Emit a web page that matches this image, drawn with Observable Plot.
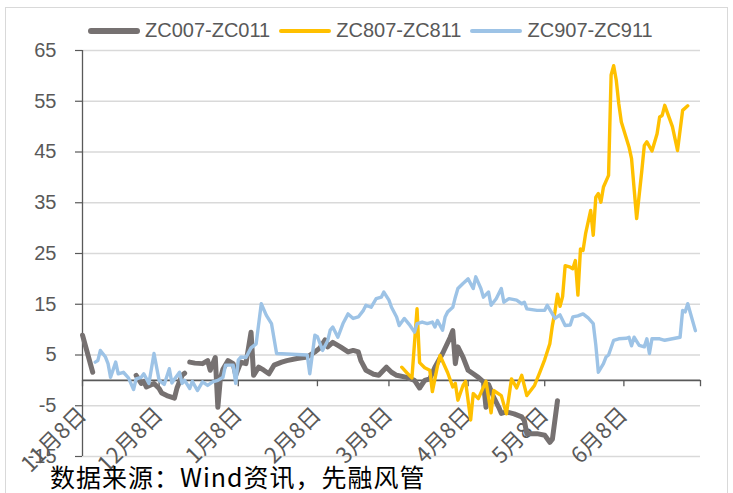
<!DOCTYPE html>
<html><head><meta charset="utf-8">
<script src="https://cdn.jsdelivr.net/npm/d3@7"></script>
<script src="https://cdn.jsdelivr.net/npm/@observablehq/plot@0.6"></script>
<style>
body{margin:0;background:#fff;}
#wrap{position:relative;width:733px;height:493px;overflow:hidden;font-family:"Liberation Sans",Arial,sans-serif;}
#border{position:absolute;left:5px;top:7px;width:723px;height:520px;border:1px solid #d9d9d9;box-sizing:border-box;}
#chart{position:absolute;left:0;top:0;}
#legend{position:absolute;left:88px;top:19px;display:flex;align-items:center;font-size:20px;color:#595959;white-space:nowrap;}
.item{display:flex;align-items:center;margin-right:9px;}
.sw{width:52px;border-radius:3px;margin-right:5px;}
#caption{position:absolute;left:50px;top:464px;font-family:"Noto Sans CJK SC",sans-serif;font-size:25px;letter-spacing:1px;line-height:1;color:#000;white-space:pre;}
</style></head>
<body>
<div id="wrap"><div id="border"></div><div id="chart"></div><div id="legend"></div><div id="caption"></div></div>
<script>
const seriesNames = ["ZC007-ZC011", "ZC807-ZC811", "ZC907-ZC911"];
const yTicks = [-15, -5, 5, 15, 25, 35, 45, 55, 65];
const xTickDates = ["2018-11-08","2018-12-08","2019-01-08","2019-02-08","2019-03-08","2019-04-08","2019-05-08","2019-06-08"];
const xTickLabels = ["11月8日","12月8日","1月8日","2月8日","3月8日","4月8日","5月8日","6月8日"];
const xEnd = "2019-07-08";
const captionText = "数据来源：Wind资讯，先融风管";

const zc007 = [
["2018-11-08",8.9],["2018-11-12",1.6],["2018-11-13",null],
["2018-11-29",1.0],["2018-12-01",-0.6],["2018-12-02",-0.2],["2018-12-03",-1.3],["2018-12-06",-0.6],
["2018-12-08",-1.6],["2018-12-09",-2.5],["2018-12-11",-3.0],["2018-12-14",-3.5],["2018-12-15",-1.5],
["2018-12-17",1.0],["2018-12-18",1.4],["2018-12-19",null],
["2018-12-20",3.6],["2018-12-22",3.4],["2018-12-25",3.3],["2018-12-26",3.6],["2018-12-27",3.9],
["2018-12-28",2.0],["2018-12-30",4.5],["2018-12-31",-5.3],["2019-01-01",0.4],["2019-01-02",2.2],
["2019-01-04",3.9],["2019-01-06",3.3],["2019-01-07",1.0],["2019-01-09",3.6],["2019-01-11",3.3],
["2019-01-13",9.5],["2019-01-14",1.0],["2019-01-16",2.6],["2019-01-18",2.0],["2019-01-20",1.3],
["2019-01-22",3.0],["2019-01-25",3.6],["2019-01-27",3.9],["2019-01-31",4.3],["2019-02-04",4.6],
["2019-02-07",5.6],["2019-02-09",6.4],["2019-02-11",8.0],["2019-02-12",6.6],["2019-02-14",7.5],
["2019-02-17",6.6],["2019-02-20",5.6],["2019-02-22",5.9],["2019-02-24",5.6],["2019-02-25",3.9],
["2019-02-27",2.0],["2019-03-02",1.2],["2019-03-04",1.0],["2019-03-07",2.6],["2019-03-09",1.6],
["2019-03-11",1.0],["2019-03-15",0.6],["2019-03-18",0.0],["2019-03-20",-1.5],["2019-03-22",0.0],
["2019-03-24",0.3],["2019-03-26",2.6],["2019-03-29",5.3],["2019-04-01",8.5],["2019-04-02",9.8],
["2019-04-03",3.3],["2019-04-04",6.6],["2019-04-06",4.6],["2019-04-08",2.0],["2019-04-10",1.3],
["2019-04-12",0.6],["2019-04-14",-0.3],["2019-04-15",-5.3],["2019-04-16",-0.8],["2019-04-18",-3.3],
["2019-04-20",-5.3],["2019-04-21",-6.5],["2019-04-23",-6.2],["2019-04-26",-6.6],["2019-04-29",-7.2],
["2019-04-30",-7.9],["2019-05-01",-10.5],["2019-05-02",-10.5],["2019-05-05",-10.5],["2019-05-08",-10.8],
["2019-05-10",-12.2],["2019-05-11",-11.6],["2019-05-13",-4.0]
];

const zc807 = [
["2019-03-13",2.6],["2019-03-15",1.5],["2019-03-17",0.5],["2019-03-19",14.1],["2019-03-20",3.5],
["2019-03-22",2.5],["2019-03-24",2.0],["2019-03-25",-2.2],["2019-03-27",2.8],["2019-03-28",4.9],
["2019-03-31",1.5],["2019-04-02",-1.3],["2019-04-03",-0.6],["2019-04-04",-3.9],["2019-04-06",-1.0],
["2019-04-07",-0.2],["2019-04-09",-7.8],["2019-04-10",-2.6],["2019-04-12",-3.6],["2019-04-15",-0.2],
["2019-04-17",-6.4],["2019-04-18",-2.0],["2019-04-21",-3.0],["2019-04-23",-6.6],["2019-04-25",0.3],
["2019-04-27",-1.5],["2019-04-29",1.0],["2019-05-01",-3.0],["2019-05-04",-1.0],["2019-05-06",1.5],
["2019-05-08",4.1],["2019-05-10",7.2],["2019-05-11",10.8],["2019-05-12",13.5],["2019-05-13",17.0],
["2019-05-14",14.6],["2019-05-15",16.5],["2019-05-16",22.6],["2019-05-18",22.3],["2019-05-19",22.0],
["2019-05-20",23.6],["2019-05-21",16.8],["2019-05-22",25.9],["2019-05-23",25.6],["2019-05-24",28.9],
["2019-05-26",33.5],["2019-05-27",28.6],["2019-05-28",36.1],["2019-05-29",36.8],["2019-05-30",35.1],
["2019-05-31",38.1],["2019-06-02",40.4],["2019-06-03",60.2],["2019-06-04",62.0],["2019-06-05",59.2],
["2019-06-06",54.5],["2019-06-07",50.9],["2019-06-10",46.0],["2019-06-11",43.7],["2019-06-13",31.9],
["2019-06-15",41.2],["2019-06-16",46.3],["2019-06-17",47.0],["2019-06-19",45.2],["2019-06-21",48.6],
["2019-06-22",51.9],["2019-06-23",52.2],["2019-06-24",54.2],["2019-06-27",50.0],["2019-06-29",45.3],
["2019-07-01",53.2],["2019-07-03",54.1]
];

const zc907 = [
["2018-11-13",3.6],["2018-11-14",3.9],["2018-11-15",5.9],["2018-11-17",4.6],["2018-11-18",3.3],
["2018-11-19",0.6],["2018-11-21",3.6],["2018-11-22",1.3],["2018-11-24",1.6],["2018-11-26",0.5],
["2018-11-28",-1.8],["2018-11-29",0.3],["2018-12-01",0.6],["2018-12-02",1.3],["2018-12-04",-0.6],
["2018-12-06",5.3],["2018-12-08",0.0],["2018-12-10",-0.8],["2018-12-12",2.3],["2018-12-13",-0.5],
["2018-12-14",0.2],["2018-12-16",1.6],["2018-12-17",-0.6],["2018-12-18",0.0],["2018-12-20",-1.6],
["2018-12-21",-0.2],["2018-12-23",-2.0],["2018-12-25",-0.3],["2018-12-27",-1.0],["2018-12-29",-0.3],
["2018-12-31",0.0],["2019-01-02",0.6],["2019-01-03",3.0],["2019-01-06",3.0],["2019-01-07",-0.6],
["2019-01-08",4.0],["2019-01-09",4.6],["2019-01-11",4.5],["2019-01-13",6.4],["2019-01-15",7.2],
["2019-01-17",15.1],["2019-01-19",12.8],["2019-01-21",11.2],["2019-01-23",5.3],["2019-02-04",5.0],
["2019-02-05",1.3],["2019-02-07",8.9],["2019-02-08",8.6],["2019-02-10",5.9],["2019-02-12",7.8],
["2019-02-13",9.9],["2019-02-14",10.5],["2019-02-16",8.5],["2019-02-18",11.2],["2019-02-20",13.1],
["2019-02-22",12.2],["2019-02-24",12.5],["2019-02-26",13.8],["2019-02-27",14.8],["2019-03-01",14.4],
["2019-03-03",16.1],["2019-03-05",16.4],["2019-03-06",17.4],["2019-03-08",15.8],["2019-03-09",14.4],
["2019-03-11",12.5],["2019-03-12",10.8],["2019-03-14",12.2],["2019-03-16",11.0],["2019-03-18",9.5],
["2019-03-19",11.2],["2019-03-21",11.5],["2019-03-23",11.2],["2019-03-25",11.5],["2019-03-26",10.5],
["2019-03-27",11.8],["2019-03-29",9.9],["2019-03-30",12.5],["2019-03-31",13.5],["2019-04-02",14.4],
["2019-04-03",16.4],["2019-04-04",18.1],["2019-04-06",19.1],["2019-04-08",20.0],["2019-04-10",18.1],
["2019-04-11",20.4],["2019-04-13",18.1],["2019-04-14",16.4],["2019-04-16",17.4],["2019-04-17",14.8],
["2019-04-19",16.1],["2019-04-21",18.1],["2019-04-22",15.4],["2019-04-24",16.1],["2019-04-27",15.8],
["2019-04-29",15.1],["2019-04-30",15.4],["2019-05-01",14.1],["2019-05-05",13.8],["2019-05-08",13.8],
["2019-05-09",14.8],["2019-05-11",13.1],["2019-05-12",12.2],["2019-05-14",12.9],["2019-05-16",10.8],
["2019-05-18",10.9],["2019-05-19",12.5],["2019-05-21",12.7],["2019-05-23",13.1],["2019-05-25",12.3],
["2019-05-27",11.2],["2019-05-28",7.0],["2019-05-29",1.6],["2019-05-31",3.3],["2019-06-01",4.6],
["2019-06-02",5.0],["2019-06-04",7.9],["2019-06-06",8.2],["2019-06-09",8.3],["2019-06-10",8.5],
["2019-06-11",6.8],["2019-06-12",8.5],["2019-06-14",6.9],["2019-06-16",6.6],["2019-06-17",8.2],
["2019-06-18",5.3],["2019-06-19",8.2],["2019-06-22",8.2],["2019-06-24",7.9],["2019-06-27",8.2],
["2019-06-30",8.5],["2019-07-01",13.8],["2019-07-02",13.5],["2019-07-03",15.1],["2019-07-06",9.8]
];

const colors = ["#767171", "#FFC000", "#9DC3E6"];
const widths = [5, 3.4, 3.4];
const swatchH = [6, 4, 4];

const parse = d3.utcParse("%Y-%m-%d");
const rows = arr => arr.map(([d, v]) => ({date: parse(d), value: v}));
const allSeries = [zc007, zc807, zc907].map(rows);
const tickRows = xTickDates.map((d, i) => ({date: parse(d), label: xTickLabels[i]}));

const chart = Plot.plot({
  width: 733, height: 493,
  marginLeft: 82, marginRight: 33, marginTop: 50, marginBottom: 37,
  x: {type: "utc", domain: [parse(xTickDates[0]), parse(xEnd)], axis: null},
  y: {domain: [-15, 65], axis: null},
  style: {fontFamily: "'Liberation Sans', Arial, sans-serif", background: "transparent", overflow: "visible"},
  marks: [
    Plot.gridY(yTicks, {stroke: "#d9d9d9", strokeOpacity: 1, strokeWidth: 1.3}),
    Plot.axisY(yTicks, {tickSize: 7, tickPadding: 19, fontSize: 20, fill: "#595959", stroke: "#595959", strokeWidth: 1.2, label: null, tickFormat: d => String(d)}),
    Plot.ruleX([parse(xTickDates[0])], {stroke: "#595959", strokeWidth: 1.3}),
    Plot.ruleY([0], {stroke: "#595959", strokeWidth: 1.6}),
    Plot.ruleX([...xTickDates, xEnd].map(parse), {y1: 0, y2: -1.25, stroke: "#595959", strokeWidth: 1.3}),
    Plot.text(tickRows, {x: "date", y: 0, text: "label", rotate: -45, textAnchor: "end", dx: 0, dy: 31,
      fontSize: 22, fill: "#595959", fontFamily: "'Noto Sans CJK SC', sans-serif"}),
    ...allSeries.map((s, i) => Plot.line(s, {x: "date", y: "value", stroke: colors[i], strokeWidth: widths[i],
      strokeLinejoin: "round", strokeLinecap: "round"}))
  ]
});
document.getElementById("chart").appendChild(chart);

const legend = document.getElementById("legend");
seriesNames.forEach((n, i) => {
  const it = document.createElement("div"); it.className = "item";
  const sw = document.createElement("div"); sw.className = "sw";
  sw.style.background = colors[i]; sw.style.height = swatchH[i] + "px";
  const t = document.createElement("span"); t.textContent = n;
  it.appendChild(sw); it.appendChild(t); legend.appendChild(it);
});
document.getElementById("caption").textContent = captionText;
</script>
</body></html>
